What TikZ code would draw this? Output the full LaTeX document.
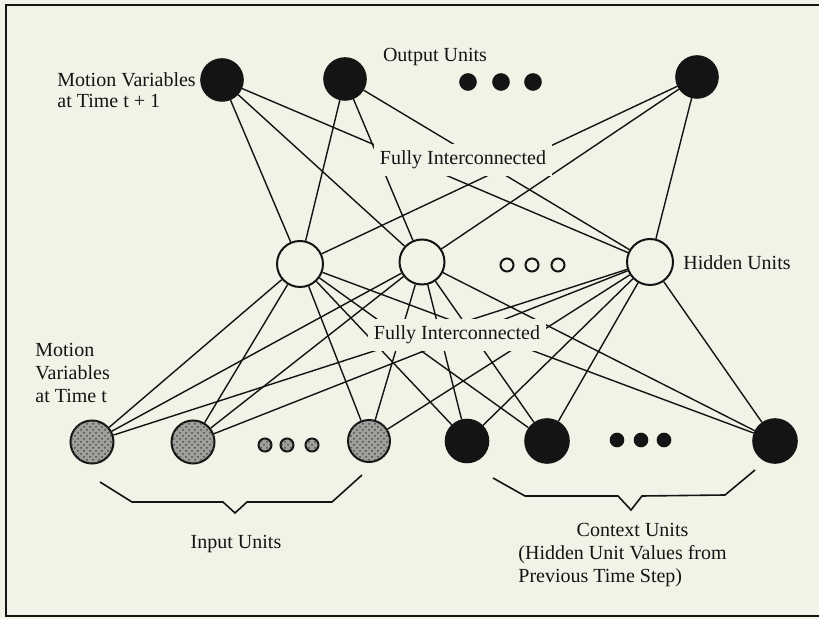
\documentclass[tikz,border=0pt]{standalone}
\usepackage{fontspec}
\setmainfont{Liberation Serif}
\usetikzlibrary{patterns}
\definecolor{bg}{RGB}{242,242,231}
\definecolor{ink}{RGB}{20,20,20}
\definecolor{stip}{RGB}{160,160,155}
\begin{document}
\begin{tikzpicture}[x=0.5pt,y=-0.5pt,
  every node/.style={font=\fontsize{10pt}{11.5pt}\selectfont, text=ink},
  blackunit/.style={circle,fill=ink,draw=ink,line width=0.8pt,inner sep=0pt,minimum size=#1},
  blackunit/.default=21pt,
  whiteunit/.style={circle,fill=bg,draw=ink,line width=1pt,inner sep=0pt,minimum size=#1},
  whiteunit/.default=22.5pt,
  grayunit/.style={circle,fill=stip,draw=ink,line width=1pt,inner sep=0pt,minimum size=#1,
    postaction={pattern=crosshatch dots, pattern color=black!70}},
  grayunit/.default=21pt,
  conn/.style={draw=ink,line width=0.7pt},
  brace/.style={draw=ink,line width=0.8pt,line join=miter},
  txt/.style={inner sep=0pt},
  gaplabel/.style={fill=bg,inner xsep=3pt,inner ysep=3.5pt}
]
\useasboundingbox (0,0) rectangle (819,619);
\fill[bg] (0,0) rectangle (819,619);
\draw[ink,line width=1.4pt] (819,5) -- (6,5) -- (6,616) -- (819,616);

% output units
\node[blackunit] (O1) at (222,80) {};
\node[blackunit] (O2) at (345,79) {};
\node[blackunit=8pt] (od1) at (468,82) {};
\node[blackunit=8pt] (od2) at (501,82) {};
\node[blackunit=8pt] (od3) at (533,82) {};
\node[blackunit] (O3) at (697,77) {};

% hidden units
\node[whiteunit=23pt] (H1) at (300,264) {};
\node[whiteunit] (H2) at (422,262) {};
\node[whiteunit=6.5pt] (hd1) at (507,265) {};
\node[whiteunit=6.5pt] (hd2) at (532,265) {};
\node[whiteunit=6.5pt] (hd3) at (558,265) {};
\node[whiteunit=23pt] (H3) at (650,262) {};

% input units
\node[grayunit=21.5pt] (I1) at (92,442) {};
\node[grayunit=21.5pt] (I2) at (193,442) {};
\node[grayunit=6.5pt] (id1) at (265,445) {};
\node[grayunit=6.5pt] (id2) at (287,445) {};
\node[grayunit=6.5pt] (id3) at (312,445) {};
\node[grayunit] (I3) at (369,441) {};

% context units
\node[blackunit=21.5pt] (C1) at (467,441) {};
\node[blackunit=22pt] (C2) at (547,441) {};
\node[blackunit=6.5pt] (cd1) at (617,440) {};
\node[blackunit=6.5pt] (cd2) at (641,440) {};
\node[blackunit=6.5pt] (cd3) at (664,440) {};
\node[blackunit=22pt] (C3) at (775,441) {};

% connections
\foreach \o in {O1,O2,O3}
  \foreach \h in {H1,H2,H3}
    \draw[conn] (\o) -- (\h);
\foreach \h in {H1,H2,H3}
  \foreach \b in {I1,I2,I3,C1,C2,C3}
    \draw[conn] (\h) -- (\b);

% labels that interrupt the connectors
\node[gaplabel,anchor=base] (fi1) at (463,165) {Fully Interconnected};
\node[gaplabel,anchor=base] (fi2) at (457,340) {Fully Interconnected};

% braces
\draw[brace] (100,482) -- (132,502) -- (223,502) -- (235,513) -- (247,502) -- (332,502) -- (362,475);
\draw[brace] (493,478) -- (525,496) -- (618,496) -- (631,510) -- (642,496) -- (725,495) -- (755,470);

% texts
\node[txt,anchor=base] (outlbl) at (435,62) {Output Units};
\node[txt,anchor=base west,font=\fontsize{10pt}{10.5pt}\selectfont] (mv1) at (57,87)
  {\begin{tabular}[t]{@{}l@{}}Motion Variables\\at Time t + 1\end{tabular}};
\node[txt,anchor=base west] (hidlbl) at (683,270) {Hidden Units};
\node[txt,anchor=base west] (mv0) at (35,357)
  {\begin{tabular}[t]{@{}l@{}}Motion\\Variables\\at Time t\end{tabular}};
\node[txt,anchor=base] (inlbl) at (236,549) {Input Units};
\node[txt,anchor=base west] (ctxlbl) at (518,537)
  {\begin{tabular}[t]{@{}l@{}}\multicolumn{1}{@{}c@{}}{\hspace{10pt}Context Units}\\(Hidden Unit Values from\\Previous Time Step)\end{tabular}};
\end{tikzpicture}
\end{document}
